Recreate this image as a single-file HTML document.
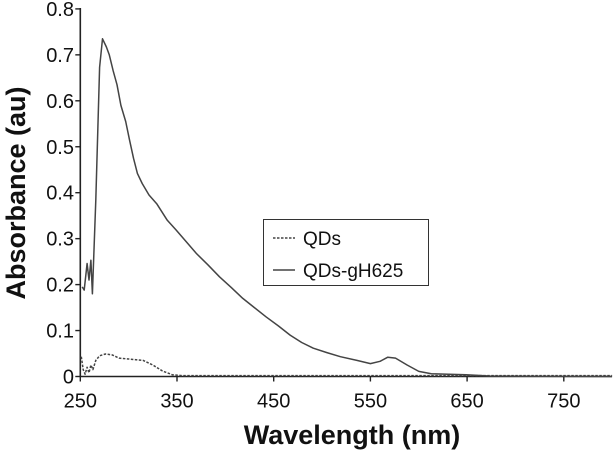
<!DOCTYPE html>
<html><head><meta charset="utf-8"><style>
body{margin:0;background:#fff}
svg{display:block;font-family:"Liberation Sans",Arial,sans-serif}
</style></head><body>
<svg width="614" height="451" viewBox="0 0 614 451">
<g id="plot"></g>
</svg>
<script>
const xTicks=[250,350,450,550,650,750];
const yTicks=[0,0.1,0.2,0.3,0.4,0.5,0.6,0.7,0.8];
const yTickLabels=["0","0.1","0.2","0.3","0.4","0.5","0.6","0.7","0.8"];
const gWave=[252,254,257,259,261,262.5,266,270,273,277,280,284,288,292,297,301,305,309,314,321,329,340,349,360,370,382,394,406,418,430,442,455,467,479,491,505,519,536,550,560,568,576,588,600,613,649,673,800];
const gAbs=[0.195,0.188,0.246,0.21,0.253,0.18,0.384,0.673,0.735,0.717,0.700,0.665,0.635,0.590,0.555,0.514,0.475,0.442,0.420,0.395,0.376,0.340,0.319,0.292,0.268,0.243,0.217,0.194,0.170,0.150,0.130,0.110,0.090,0.074,0.0615,0.052,0.043,0.035,0.028,0.033,0.042,0.040,0.025,0.011,0.006,0.004,0.001,0.0];
const qWave=[251,253,255,257,259,261,263,266,270,276,283,290,300,315,325,335,345,355,500,800];
const qAbs=[0.043,0.015,0.005,0.02,0.008,0.025,0.015,0.035,0.045,0.049,0.047,0.040,0.038,0.035,0.025,0.012,0.004,0.002,0.002,0.002];

const NS="http://www.w3.org/2000/svg";
const g=document.getElementById('plot');
const X0=80.3, PXNM=0.967, Y0=376.5, PXV=459.5;
const xs=v=>X0+(v-250)*PXNM;
const ys=v=>Y0-v*PXV;
function mk(t,a){const e=document.createElementNS(NS,t);for(const k in a)e.setAttribute(k,a[k]);g.appendChild(e);return e;}

let ax=mk('path',{d:`M${X0} 8 V${Y0} H612`,stroke:'#222','stroke-width':1.6,fill:'none'});


yTicks.forEach((v,i)=>{
  let t=mk('line',{x1:X0-5,x2:X0,y1:ys(v),y2:ys(v),stroke:'#222','stroke-width':1.4});
  
  
  let l=mk('text',{x:74,y:ys(v)+7,'text-anchor':'end','font-size':20,fill:'#111'});
  l.textContent=yTickLabels[i];
  
  
});
xTicks.forEach(v=>{
  let t=mk('line',{x1:xs(v),x2:xs(v),y1:Y0,y2:Y0+5,stroke:'#222','stroke-width':1.4});
  
  
  let l=mk('text',{x:xs(v),y:Y0+31,'text-anchor':'middle','font-size':20,fill:'#111'});
  l.textContent=String(v);
  
  
});
let xt=mk('text',{x:352,y:444,'text-anchor':'middle','font-size':27,'font-weight':'bold',fill:'#111'});
xt.textContent='Wavelength (nm)';


let yt=mk('text',{x:0,y:0,'text-anchor':'middle','font-size':27,'font-weight':'bold',fill:'#111',transform:'translate(25,193) rotate(-90)'});
yt.textContent='Absorbance (au)';



function line(w,a,dash,name){
  const d=w.map((x,i)=>(i?'L':'M')+xs(x).toFixed(1)+' '+ys(a[i]).toFixed(1)).join(' ');
  const p=mk('path',{d,fill:'none',stroke:'#444','stroke-width':1.5,'stroke-linejoin':'round'});
  if(dash)p.setAttribute('stroke-dasharray',dash);
  
  
}
line(qWave,qAbs,'2.5 1.5','series-qds');
line(gWave,gAbs,null,'series-qds-gh625');

let lb=mk('rect',{x:263.5,y:219.5,width:165,height:66,fill:'#fff',stroke:'#333','stroke-width':1});


let l1=mk('line',{x1:273,x2:295,y1:238,y2:238,stroke:'#444','stroke-width':1.5,'stroke-dasharray':'2.5 1.5'});


let t1=mk('text',{x:303,y:245,'font-size':19,fill:'#111'});t1.textContent='QDs';


let l2=mk('line',{x1:273,x2:295,y1:270,y2:270,stroke:'#444','stroke-width':1.5});


let t2=mk('text',{x:303,y:277,'font-size':19,fill:'#111'});t2.textContent='QDs-gH625';


</script>
</body></html>
